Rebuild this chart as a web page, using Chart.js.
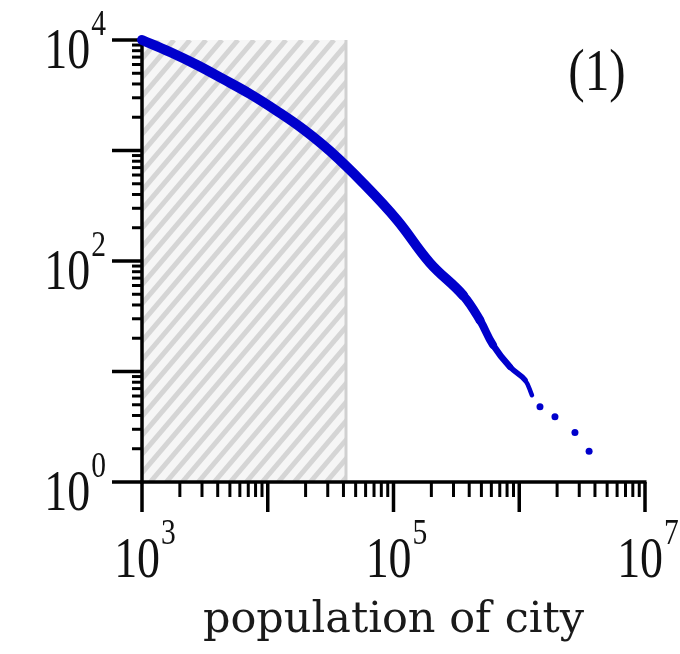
<!DOCTYPE html>
<html>
<head>
<meta charset="utf-8">
<script src="https://cdn.jsdelivr.net/npm/chart.js@4.4.0/dist/chart.umd.min.js"></script>
<style>
  html, body { margin: 0; padding: 0; background: #fff; }
  #wrap { width: 680px; height: 654px; }
</style>
</head>
<body>
<div id="wrap"><canvas id="chart1" width="680" height="654"></canvas></div>
<script>
// rank vs population
const popDense = [1000, 1670, 2740, 4400, 7230, 11860, 19050, 31260, 57200, 106700, 195000, 357000, 488000, 618000, 844000, 1110000, 1262000];
const rankDense = [10000, 7790, 5940, 4440, 3245, 2275, 1566, 988, 508, 235, 96, 49, 29, 17.4, 11.0, 8.4, 6.1];
// the few largest cities, drawn as separate dots
const popTail = [1462000, 1923000, 2773000, 3592000];
const rankTail = [4.8, 3.9, 2.8, 1.9];

const xRange = [1e3, 1e7];
const yRange = [1, 1e4];
const hatchRange = [1e3, 41900];
const xLabelExps = [3, 5, 7];
const yLabelExps = [0, 2, 4];
const panelLabel = '(1)';
const xTitle = 'population of city';

const blue = '#0000cc';
const sx = 0.82; // the labels look squeezed sideways

function drawPower(ctx, exp, ax, baseY, align) {
  ctx.font = '56px "Liberation Serif"';
  const wb = ctx.measureText('10').width * sx;
  ctx.font = '36px "Liberation Serif"';
  const ws = ctx.measureText(String(exp)).width * sx;
  const total = wb + 1 + ws;
  const left = align === 'right' ? ax - total : ax - total / 2;
  ctx.fillStyle = '#111';
  ctx.textAlign = 'left';
  ctx.textBaseline = 'alphabetic';
  ctx.save();
  ctx.translate(left, baseY);
  ctx.scale(sx, 1);
  ctx.font = '56px "Liberation Serif"';
  ctx.fillText('10', 0, 0);
  ctx.restore();
  ctx.save();
  ctx.translate(left + wb + 1, baseY - 33);
  ctx.scale(sx, 1);
  ctx.font = '36px "Liberation Serif"';
  ctx.fillText(String(exp), 0, 0);
  ctx.restore();
}

function seg(ctx, x1, y1, x2, y2) {
  ctx.beginPath();
  ctx.moveTo(x1, y1);
  ctx.lineTo(x2, y2);
  ctx.stroke();
}

const decor = {
  id: 'decor',
  beforeDatasetsDraw(chart) {
    const { ctx, chartArea: a, scales: { x, y } } = chart;

    // hatched band
    const x0 = x.getPixelForValue(hatchRange[0]);
    const x1 = x.getPixelForValue(hatchRange[1]);
    const h = a.bottom - a.top;
    ctx.save();
    ctx.beginPath();
    ctx.rect(x0, a.top, x1 - x0, h);
    ctx.clip();
    ctx.fillStyle = '#f6f6f6';
    ctx.fillRect(x0, a.top, x1 - x0, h);
    ctx.strokeStyle = '#d5d5d5';
    ctx.lineWidth = 5;
    const run = h * 0.85;
    for (let o = x0 - run; o < x1 + 20; o += 16) {
      seg(ctx, o, a.bottom, o + run, a.top);
    }
    ctx.restore();
    ctx.save();
    ctx.strokeStyle = '#d0d0d0';
    ctx.lineWidth = 3;
    seg(ctx, x1, a.top, x1, a.bottom);
    ctx.restore();

    // axes and ticks
    ctx.save();
    ctx.strokeStyle = '#000';
    ctx.lineCap = 'butt';
    ctx.lineWidth = 3.5;
    seg(ctx, a.left, a.top - 1.5, a.left, a.bottom + 1.5);
    seg(ctx, a.left - 1.5, a.bottom, a.right + 1.5, a.bottom);
    for (let d = 3; d <= 7; d++) {
      for (let m = 1; m <= 9; m++) {
        const v = m * Math.pow(10, d);
        if (v > xRange[1]) break;
        const px = x.getPixelForValue(v);
        ctx.lineWidth = m === 1 ? 3.5 : 3;
        seg(ctx, px, a.bottom, px, a.bottom + (m === 1 ? 30 : 15));
      }
    }
    for (let d = 0; d <= 4; d++) {
      for (let m = 1; m <= 9; m++) {
        const v = m * Math.pow(10, d);
        if (v > yRange[1]) break;
        const py = y.getPixelForValue(v);
        ctx.lineWidth = m === 1 ? 3.5 : 3;
        seg(ctx, a.left - (m === 1 ? 30 : 10), py, a.left, py);
      }
    }
    ctx.restore();
  },
  afterDraw(chart) {
    const { ctx, chartArea: a, scales: { x, y } } = chart;
    ctx.save();
    xLabelExps.forEach(e => {
      drawPower(ctx, e, x.getPixelForValue(Math.pow(10, e)) + 3, a.bottom + 95, 'center');
    });
    yLabelExps.forEach(e => {
      drawPower(ctx, e, a.left - 36, y.getPixelForValue(Math.pow(10, e)) + 28, 'right');
    });

    ctx.fillStyle = '#1a1a1a';
    ctx.font = '43px "DejaVu Serif"';
    ctx.textAlign = 'center';
    ctx.fillText(xTitle, (a.left + a.right) / 2, 632);

    ctx.save();
    ctx.translate(597, 90);
    ctx.scale(sx, 1);
    ctx.font = '60px "Liberation Serif"';
    ctx.textAlign = 'center';
    ctx.fillStyle = '#111';
    ctx.fillText(panelLabel, 0, 0);
    ctx.restore();
    ctx.restore();
  }
};

const denseWidths = i => (i <= 10 ? 10 : i === 11 ? 9 : i === 12 ? 8 : i === 13 ? 6.5 : i === 14 ? 5.5 : 4.5);

new Chart(document.getElementById('chart1'), {
  type: 'line',
  data: {
    datasets: [
      {
        data: popDense.map((p, i) => ({ x: p, y: rankDense[i] })),
        borderColor: blue,
        borderWidth: 10,
        borderCapStyle: 'round',
        borderJoinStyle: 'round',
        pointRadius: 0,
        tension: 0.4,
        segment: { borderWidth: c => denseWidths(c.p0DataIndex) },
        clip: 8
      },
      {
        type: 'scatter',
        data: popTail.map((p, i) => ({ x: p, y: rankTail[i] })),
        backgroundColor: blue,
        borderWidth: 0,
        pointRadius: 3.5,
        showLine: false
      }
    ]
  },
  options: {
    responsive: false,
    animation: false,
    devicePixelRatio: 1,
    layout: { padding: { left: 142, right: 35, top: 40, bottom: 172 } },
    scales: {
      x: { type: 'logarithmic', min: xRange[0], max: xRange[1], display: false },
      y: { type: 'logarithmic', min: yRange[0], max: yRange[1], display: false }
    },
    plugins: {
      legend: { display: false },
      tooltip: { enabled: false }
    }
  },
  plugins: [decor]
});
</script>
</body>
</html>
